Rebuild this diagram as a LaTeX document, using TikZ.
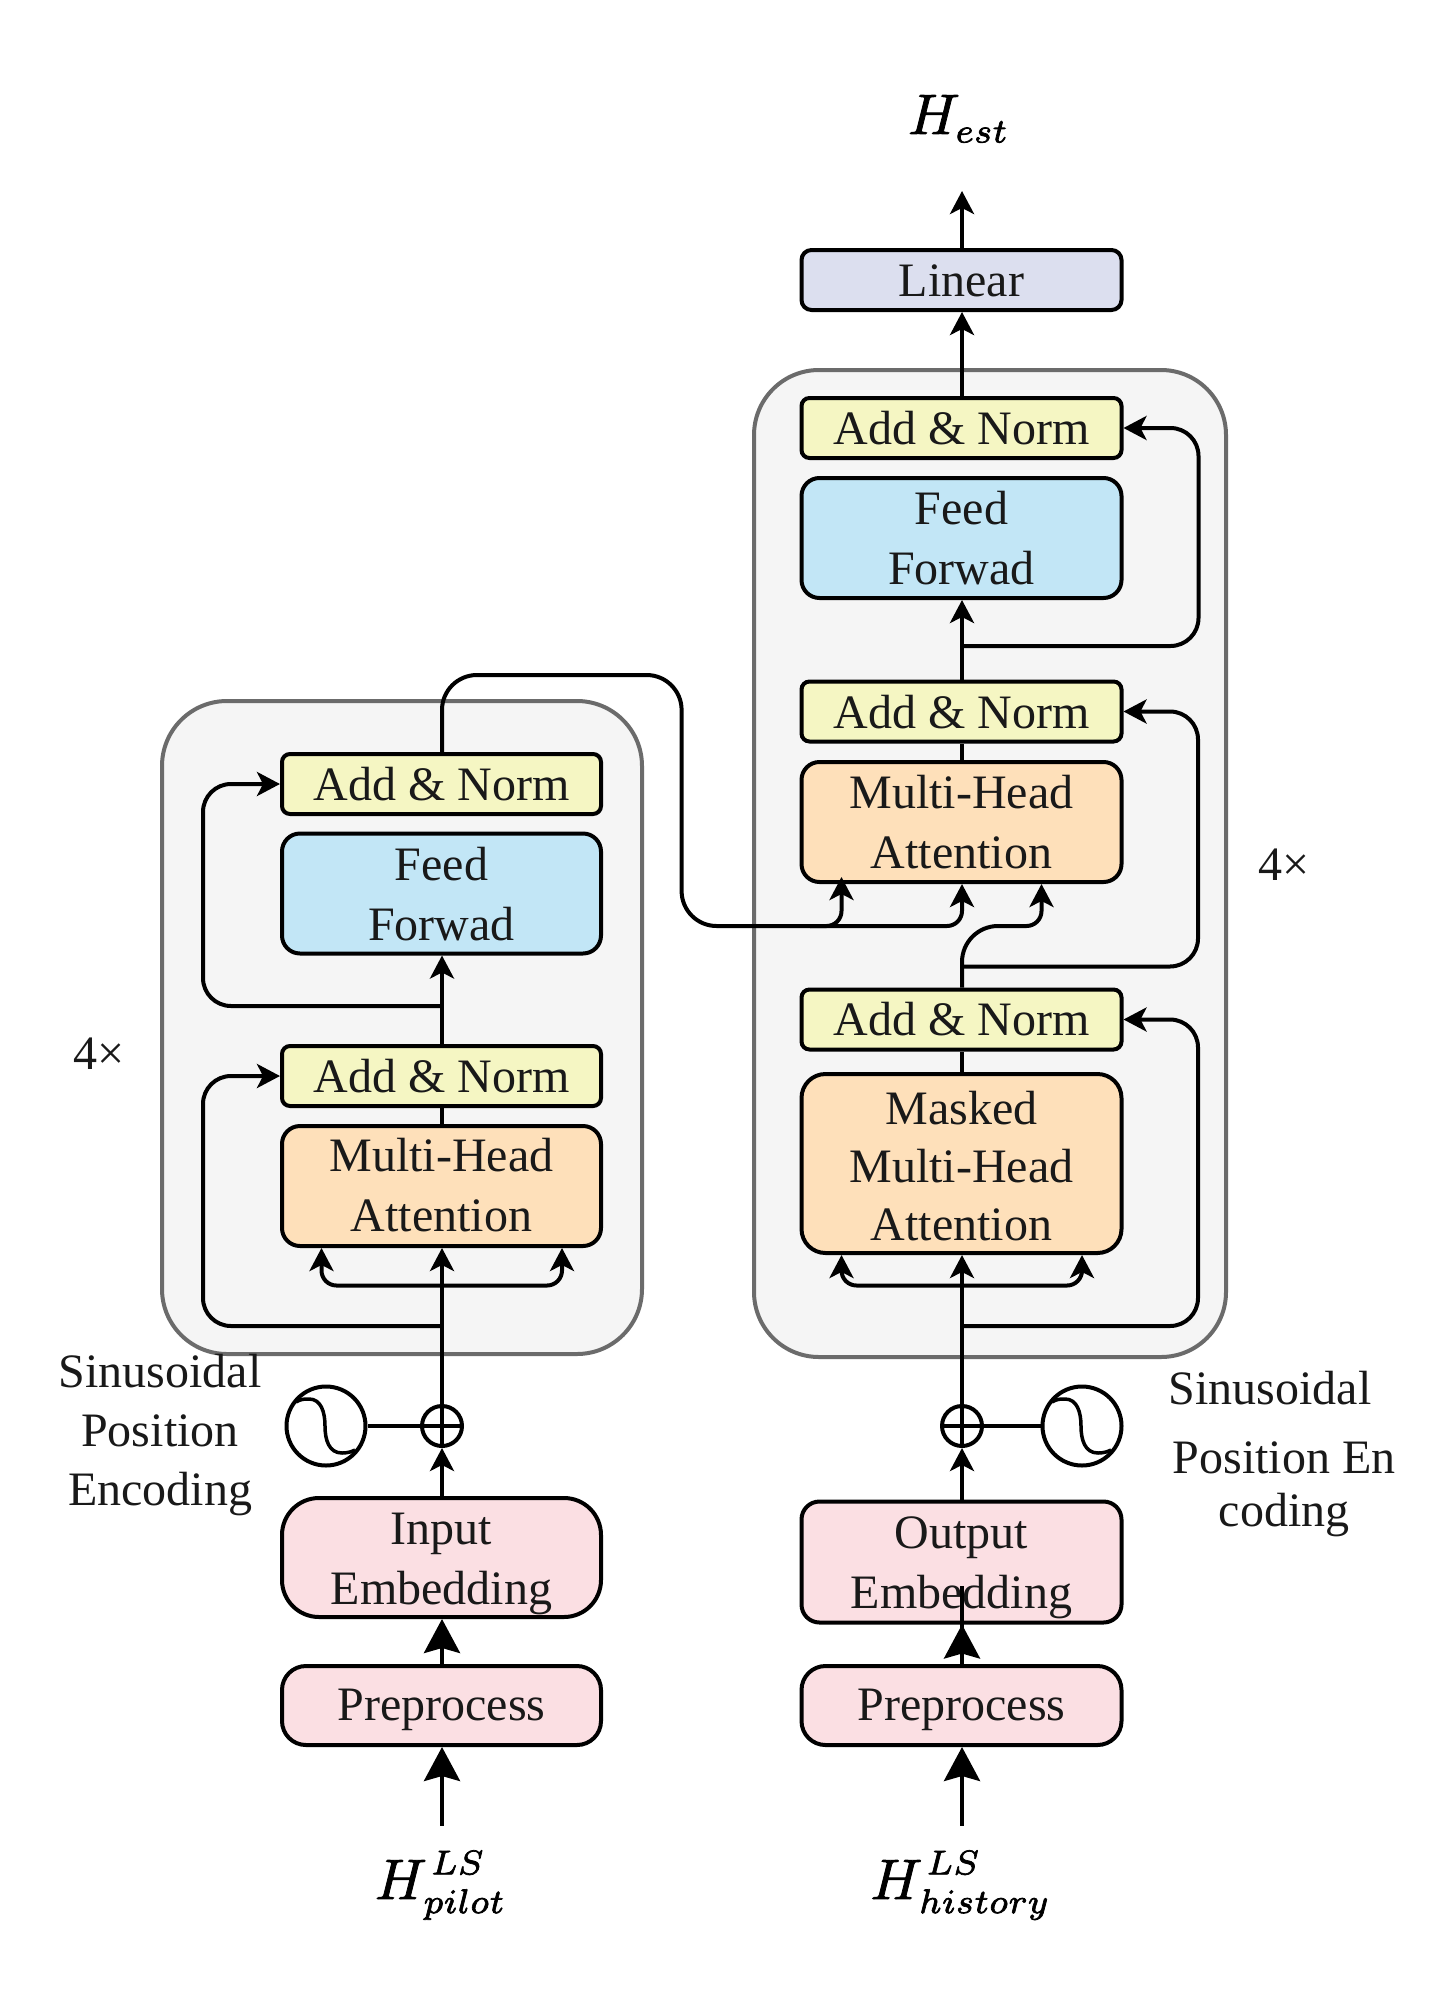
\documentclass[tikz,border=0pt]{standalone}
\usepackage{amsmath}
\usepackage{graphicx}
\usepackage{fontspec}
\setmainfont{Liberation Serif}
\usetikzlibrary{arrows.meta}
\definecolor{cAN}{HTML}{F5F6C3}
\definecolor{cFF}{HTML}{C2E6F6}
\definecolor{cMH}{HTML}{FEE0BA}
\definecolor{cPK}{HTML}{FBDFE3}
\definecolor{cLN}{HTML}{DCDFEF}
\definecolor{cCT}{HTML}{F5F5F5}
\definecolor{cCB}{HTML}{6B6B6B}
\newcommand{\bt}[3]{\raisebox{\dimexpr#1pt-1pt\relax}[0pt][0pt]{\parbox[b]{300pt}{\centering\baselineskip=#2pt #3\par}}}
\newcommand{\hv}[1]{\special{pdf:code 2 Tr 0.14 w}$#1$\special{pdf:code 0 Tr}}
\newcommand{\scs}[1]{\scalebox{.86}{$\scriptstyle #1$}}
\newcommand{\sps}[1]{\raisebox{.7pt}{\hspace{.7pt}\scs{#1}}}
\newcommand{\sbb}[1]{\hspace{.2pt}\scs{#1}}
\tikzset{
  x=1pt,y=-1pt,
  every node/.style={inner sep=0pt},
  bx/.style={draw=black,line width=4pt,font=\fontsize{48}{60}\selectfont,text=black!90},
  colL/.style={bx,minimum width=319pt},
  colR/.style={bx,minimum width=320pt},
  txt/.style={font=\fontsize{48}{60}\selectfont,text=black!90},
  mth/.style={scale=5.7,anchor=base},
  ctr/.style={draw=cCB,fill=cCT,line width=4pt,rounded corners=65pt},
  ln/.style={draw=black,line width=4pt},
  sm/.style={ln,-{Stealth[length=23pt,width=24pt,inset=6pt,sep=0pt]}},
  bg/.style={ln,-{Stealth[length=34pt,width=36pt,inset=5pt,sep=0pt]}},
  sinc/.style={circle,draw=black,line width=4pt,minimum size=79pt},
  plusc/.style={circle,draw=black,line width=4pt,minimum size=40pt},
}
\begin{document}
\begin{tikzpicture}
\useasboundingbox (0,0) rectangle (1444,2012);
% containers
\draw[ctr] (162,701) rectangle (642,1354);
\draw[ctr] (754,370) rectangle (1226,1357);
% left column
\node[colL,fill=cPK,rounded corners=24pt,minimum height=79pt] (ppL) at (441.5,1705.5) {\bt{-14}{60}{Preprocess}};
\node[colL,fill=cPK,rounded corners=37pt,minimum height=119pt] (ieL) at (441.5,1557.5) {\bt{-45.5}{60}{Input\\Embedding}};
\node[colL,fill=cMH,rounded corners=18pt,minimum height=120pt] (mhL) at (441.5,1186) {\bt{-44.6}{60}{Multi-Head\\Attention}};
\node[colL,fill=cAN,rounded corners=8pt,minimum height=60pt] (anbL) at (441.5,1076) {\bt{-15}{60}{Add \& Norm}};
\node[colL,fill=cFF,rounded corners=18pt,minimum height=120pt] (ffL) at (441.5,893.5) {\bt{-45.5}{60}{Feed\\Forwad}};
\node[colL,fill=cAN,rounded corners=8pt,minimum height=60pt] (antL) at (441.5,784) {\bt{-15}{60}{Add \& Norm}};
% right column
\node[colR,fill=cPK,rounded corners=24pt,minimum height=79pt] (ppR) at (961.5,1705.5) {\bt{-14}{60}{Preprocess}};
\node[colR,fill=cPK,rounded corners=18pt,minimum height=121pt] (oeR) at (961.5,1562) {\bt{-45}{60}{Output\\Embedding}};
\node[colR,fill=cMH,rounded corners=24pt,minimum height=179pt] (maskR) at (961.5,1163.5) {\bt{-75.5}{58}{Masked\\Multi-Head\\Attention}};
\node[colR,fill=cAN,rounded corners=8pt,minimum height=60pt] (anaR) at (961.5,1019.5) {\bt{-15}{60}{Add \& Norm}};
\node[colR,fill=cMH,rounded corners=18pt,minimum height=120pt] (mhR) at (961.5,822) {\bt{-45}{60}{Multi-Head\\Attention}};
\node[colR,fill=cAN,rounded corners=8pt,minimum height=60pt] (anbR) at (961.5,711.5) {\bt{-15.5}{60}{Add \& Norm}};
\node[colR,fill=cFF,rounded corners=18pt,minimum height=120pt] (ffR) at (961.5,538) {\bt{-45}{60}{Feed\\Forwad}};
\node[colR,fill=cAN,rounded corners=8pt,minimum height=60pt] (ancR) at (961.5,428) {\bt{-15}{60}{Add \& Norm}};
\node[colR,fill=cLN,rounded corners=10pt,minimum height=60pt] (linR) at (961.5,280) {\bt{-15.7}{60}{Linear}};
% plus and sine sources
\node[plusc] (plusL) at (442,1426) {};
\node[plusc] (plusR) at (962,1426) {};
\node[sinc] (sinL) at (326,1426) {};
\node[sinc] (sinR) at (1082,1426) {};
\foreach \s in {sinL,sinR}{
  \draw[line width=3.5pt,shift={(\s.center)}] (-30,-24) .. controls (-25,-27) and (-22,-27) .. (-17,-27)
    .. controls (-5,-27) and (-1,-14) .. (-1,0) .. controls (-1,14) and (3,27) .. (16,27)
    .. controls (21,27) and (25,26) .. (29,24);
}
\draw[ln] (sinL.east) -- (plusL.east);
\draw[ln] (plusR.west) -- (sinR.west);
% free text
\node[txt] (tsL) at (160,1504) {\bt{0}{59}{Sinusoidal\\Position\\Encoding}};
\node[txt] (tsR) at (1270,1403) {\bt{0}{60}{Sinusoidal}};
\node[txt] (tpR) at (1284,1525) {\bt{0}{53}{Position En\\coding}};
\node[txt] (nL) at (99,1068) {\bt{0}{60}{4×}};
\node[txt] (nR) at (1284,879) {\bt{0}{60}{4×}};
\node[mth] (hest) at (959,134) {\hv{H_{\scs{est}}}};
\node[mth] (hpil) at (441,1899) {\hv{H^{\sps{LS}}_{\sbb{pilot}}}};
\node[mth] (hhis) at (961,1899) {\hv{H^{\sps{LS}}_{\sbb{history}}}};
% free ends
\coordinate (inL) at (442,1825.6);
\coordinate (inR) at (962,1825.6);
\coordinate (outE) at (962,191);
\coordinate (brL) at (442,1285.5);
\coordinate (brR) at (962,1285.5);
\coordinate (skL) at (442,1326);
\coordinate (skR) at (962,1326);
\coordinate (sk2L) at (442,1006);
\coordinate (sk2R) at (962,646);
\coordinate (sk3R) at (962,966.5);
\coordinate (insR) at (962,1586);
% vertical connectors
\draw[bg] (inL) -- (inL|-ppL.south);
\draw[bg] (inL|-ppL.north) -- (inL|-ieL.south);
\draw[sm] (inL|-ieL.north) -- (plusL.south);
\draw[sm] (plusL.south) -- (plusL|-mhL.south);
\draw[ln] (plusL|-mhL.north) -- (plusL|-anbL.south);
\draw[sm] (plusL|-anbL.north) -- (plusL|-ffL.south);
\draw[bg] (inR) -- (inR|-ppR.south);
\draw[ln] (inR|-ppR.north) -- (insR);
\draw[bg] (inR|-ppR.north) -- (inR|-oeR.south);
\draw[sm] (inR|-oeR.north) -- (plusR.south);
\draw[sm] (plusR.south) -- (plusR|-maskR.south);
\draw[ln] (plusR|-maskR.north) -- (plusR|-anaR.south);
\draw[ln] (plusR|-mhR.north) -- (plusR|-anbR.south);
\draw[sm] (plusR|-anbR.north) -- (plusR|-ffR.south);
\draw[sm] (plusR|-ancR.north) -- (plusR|-linR.south);
\draw[sm] (plusR|-linR.north) -- (outE);
% attention fan-outs
\draw[sm,rounded corners=15pt] (brL) -| ([xshift=-120pt]mhL.south);
\draw[sm,rounded corners=15pt] (brL) -| ([xshift=120.5pt]mhL.south);
\draw[sm,rounded corners=15pt] (brR) -| ([xshift=-120pt]maskR.south);
\draw[sm,rounded corners=15pt] (brR) -| ([xshift=120.5pt]maskR.south);
% residual connections
\draw[sm,rounded corners=28pt] (skL) -- (203,1326) -- (203,1076) -- (anbL.west);
\draw[sm,rounded corners=28pt] (sk2L) -- (203,1006) -- (203,784) -- (antL.west);
\draw[sm,rounded corners=28pt] (skR) -- (1198,1326) -- (1198,1019.5) -- (anaR.east);
\draw[sm,rounded corners=28pt] (sk3R) -- (1198,966.5) -- (1198,711.5) -- (anbR.east);
\draw[sm,rounded corners=28pt] (sk2R) -- (1198.5,646) -- (1198.5,428) -- (ancR.east);
% encoder to decoder
\coordinate (qa) at (1006,926);
\coordinate (qb) at (810,926);
\draw[ln,rounded corners=35pt] (plusL|-antL.north) -- (442,675) -- (681.6,675) -- (681.6,926) -- (qb);
\draw[sm,rounded corners=15pt] (qb) -- (962,926) -- (plusR|-mhR.south);
\draw[sm,rounded corners=15pt] (qb) -- (841.5,926) -- ([xshift=-120pt,yshift=7pt]mhR.south);
\draw[ln,rounded corners=36pt] (plusR|-anaR.north) -- (962,926) -- (qa);
\draw[sm,rounded corners=15pt] (qa) -- (1041.5,926) -- ([xshift=80pt]mhR.south);
\end{tikzpicture}
\end{document}
